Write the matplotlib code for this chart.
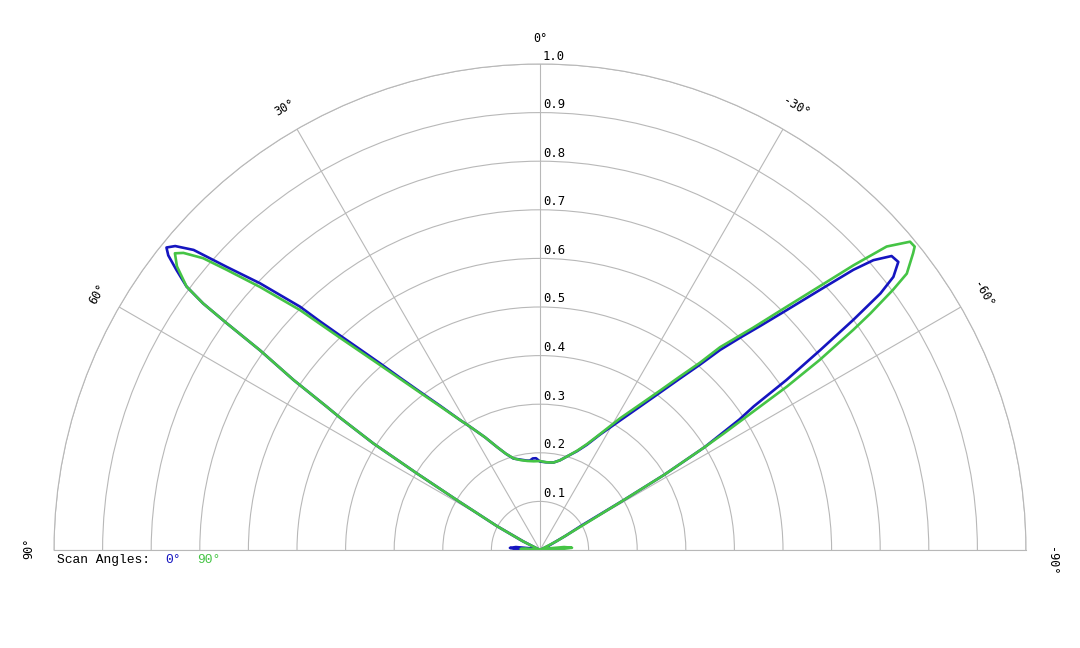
import numpy as np
import matplotlib
matplotlib.use('agg')
import matplotlib.pyplot as plt
from matplotlib.transforms import offset_copy

# Pattern samples (angle in degrees, normalised amplitude)
blue_deg = [-90, -87, -84, -80, -70, -64, -61, -59.5, -59.2, -58.8, -58.0, -56.8, -56.1, -55.4,
            -54.5, -53.7, -53.0, -52.3, -51.2, -50.1, -49.0, -48.2, -47.1, -45.8, -44.5, -43.3,
            -42.0, -40.8, -39.2, -37.3, -34.9, -31.7, -27.5, -24.0, -20.5, -16.0, -12.5, -8.7, -4.0,
            0, 2.5, 4.5, 6.5, 8.4, 12.0, 16.2, 19.5, 22.7, 26.0, 29.6, 31.6, 34.7, 37.2, 39.1,
            40.6, 41.9, 43.0, 43.9, 44.6, 46.4, 47.9, 49.1, 50.2, 51.0, 51.6, 52.4, 53.3, 53.8,
            54.1, 54.5, 55.4, 56.1, 56.5, 57.4, 58.1, 59.0, 61.0, 63.0, 66.0, 78.0, 80.0, 83.0,
            86.0, 88.0, 90]
blue_val = [0.0, 0.035, 0.025, 0.005, 0.0, 0.02, 0.06, 0.10, 0.20, 0.30, 0.40, 0.49, 0.53, 0.616,
            0.708, 0.80, 0.877, 0.919, 0.946, 0.943, 0.909, 0.865, 0.786, 0.708, 0.646, 0.600,
            0.554, 0.504, 0.455, 0.407, 0.360, 0.313, 0.268, 0.237, 0.217, 0.200, 0.189, 0.182,
            0.181, 0.182, 0.189, 0.189, 0.185, 0.186, 0.190, 0.196, 0.210, 0.230, 0.258, 0.292,
            0.314, 0.361, 0.409, 0.457, 0.506, 0.555, 0.604, 0.653, 0.703, 0.796, 0.869, 0.943,
            0.977, 0.989, 0.976, 0.944, 0.907, 0.859, 0.796, 0.708, 0.616, 0.529, 0.494, 0.407,
            0.299, 0.200, 0.101, 0.04, 0.0, 0.0, 0.02, 0.05, 0.062, 0.05, 0.0]

green_deg = [-90, -88, -86, -83, -80, -77, -66, -62, -60, -59.2, -58.8, -58.0, -57.6, -56.9, -56.5,
             -55.8, -54.9, -54.4, -53.6, -53.0, -51.5, -51.0, -50.2, -48.8, -47.75, -46.7, -45.4,
             -43.8, -41.6, -40.5, -38.9, -37.0, -34.5, -31.3, -27.5, -24.0, -20.5, -16.0, -12.5,
             -8.7, -4.0, 0, 4, 8, 12, 16, 19.5, 22.7, 26.0, 29.6, 31.6, 34.8, 37.3, 40.85, 43.3,
             45.0, 46.8, 48.2, 49.1, 50.2, 50.9, 52.0, 53.3, 53.8, 54.1, 54.5, 55.4, 56.1, 56.5,
             57.4, 58.1, 59.0, 61.0, 63.0, 66.0, 82.0, 84.0, 87.0, 89.0, 90]
green_val = [0.0, 0.04, 0.066, 0.05, 0.02, 0.0, 0.0, 0.04, 0.10, 0.20, 0.30, 0.40, 0.45, 0.54, 0.609,
             0.696, 0.788, 0.836, 0.903, 0.945, 0.981, 0.992, 0.991, 0.948, 0.871, 0.792, 0.713,
             0.634, 0.558, 0.507, 0.459, 0.411, 0.363, 0.317, 0.270, 0.239, 0.218, 0.200, 0.189,
             0.182, 0.181, 0.183, 0.183, 0.185, 0.189, 0.196, 0.210, 0.230, 0.258, 0.292, 0.314,
             0.360, 0.407, 0.503, 0.600, 0.698, 0.791, 0.865, 0.917, 0.955, 0.968, 0.948, 0.907,
             0.859, 0.796, 0.708, 0.616, 0.529, 0.494, 0.407, 0.299, 0.200, 0.101, 0.04, 0.0,
             0.0, 0.03, 0.04, 0.02, 0.0]

r_ticks = [0.1, 0.2, 0.3, 0.4, 0.5, 0.6, 0.7, 0.8, 0.9, 1.0]
theta_ticks = [-90, -60, -30, 0, 30, 60, 90]
scan_labels = ['0°', '90°']

BLUE = '#1515c0'
GREEN = '#45c445'
GRID = '#b8b8b8'

fig = plt.figure(figsize=(10.8, 6.48), dpi=100)
# half disc of radius 486 px, centre at (540, 550) px
ax = fig.add_axes([54 / 1080, -145 / 648, 972 / 1080, 972 / 648], projection='polar')
ax.set_theta_zero_location('N')
ax.set_thetamin(-90)
ax.set_thetamax(90)
ax.set_ylim(0, 1.0)

ax.plot(np.deg2rad(blue_deg), blue_val, color=BLUE, lw=1.9)
ax.plot(np.deg2rad(green_deg), green_val, color=GREEN, lw=1.9)

ax.set_xticks(np.deg2rad(theta_ticks))
ax.set_xticklabels([])
ax.set_yticks(r_ticks)
ax.set_yticklabels([])
ax.grid(True, color=GRID, lw=0.8)
for s in ax.spines.values():
	s.set_color(GRID)
	s.set_linewidth(0.8)
ax.tick_params(length=0)

# radial labels along the 0 deg line
tr = offset_copy(ax.transData, fig=fig, x=3, y=8, units='dots')
for r in r_ticks:
	ax.text(0, r, '%.1f' % r, transform=tr, ha='left', va='center',
		fontsize=8.8, family='DejaVu Sans Mono')

# angle labels
for t in theta_ticks:
	th = t
	if t == 90:
		th = 89.8
	if t == -90:
		th = -91.3
	ax.text(np.deg2rad(th), 1.052, '%d°' % t, ha='center', va='center',
		rotation=t, rotation_mode='anchor', fontsize=8.5, family='DejaVu Sans Mono')

# scan angle legend
fy = 1 - 560 / 648
fig.text(57 / 1080, fy, 'Scan Angles:', family='Liberation Mono', fontsize=9.4, va='center')
fig.text(165 / 1080, fy, scan_labels[0], family='Liberation Mono', fontsize=9.4, va='center', color=BLUE)
fig.text(197 / 1080, fy, scan_labels[1], family='Liberation Mono', fontsize=9.4, va='center', color=GREEN)

fig.savefig('out.png', dpi=100)
